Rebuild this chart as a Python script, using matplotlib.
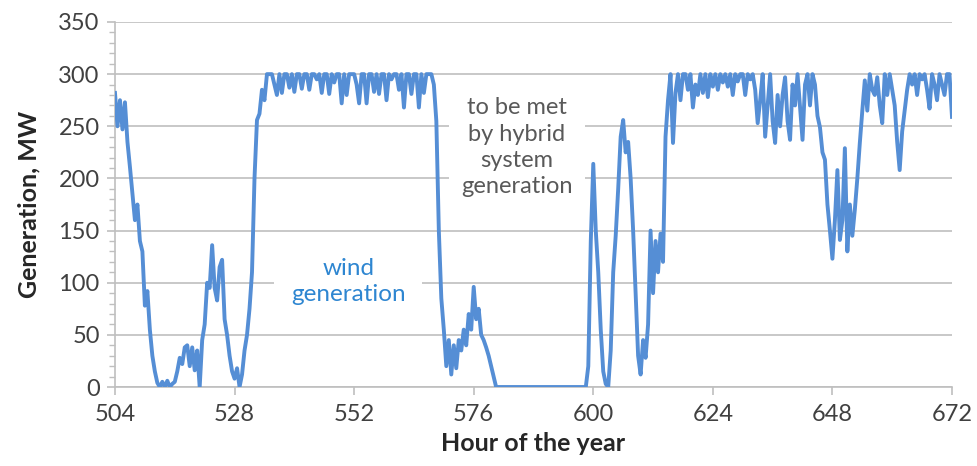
import numpy as np
import matplotlib
matplotlib.use("Agg")
import matplotlib.pyplot as plt
from matplotlib.ticker import MultipleLocator

plt.rcParams['font.family'] = ['Lato', 'DejaVu Sans']

# wind generation, MW, read every half hour from hour 504 to 672
start_hour = 504
step = 0.5
mw = [
    # 504 - 515.5
    282, 250, 275, 247, 273, 235, 211, 185, 160, 175, 140, 130,
    78, 92, 55, 30, 15, 4, 0, 5, 0, 6, 0, 3,
    # 516 - 527.5
    5, 15, 28, 22, 38, 40, 20, 38, 16, 35, 0, 45,
    60, 100, 95, 136, 95, 83, 115, 122, 65, 50, 30, 15,
    # 528 - 539.5
    8, 18, 0, 12, 35, 50, 75, 110, 200, 256, 262, 285,
    275, 300, 300, 300, 290, 280, 300, 282, 300, 300, 287, 300,
    # 540 - 551.5
    283, 300, 300, 286, 300, 300, 285, 300, 300, 295, 300, 282,
    300, 300, 281, 300, 292, 300, 300, 272, 300, 280, 300, 300,
    # 552 - 563.5
    300, 290, 272, 300, 300, 272, 300, 300, 283, 300, 281, 300,
    300, 275, 300, 295, 300, 300, 285, 300, 268, 300, 300, 281,
    # 564 - 575.5
    300, 300, 268, 300, 282, 300, 300, 300, 290, 255, 150, 85,
    55, 20, 45, 12, 40, 18, 45, 35, 55, 40, 70, 55,
    # 576 - 587.5
    96, 65, 75, 50, 45, 38, 30, 20, 10, 0, 0, 0,
    0, 0, 0, 0, 0, 0, 0, 0, 0, 0, 0, 0,
    # 588 - 599.5
    0, 0, 0, 0, 0, 0, 0, 0, 0, 0, 0, 0,
    0, 0, 0, 0, 0, 0, 0, 0, 0, 0, 20, 140,
    # 600 - 611.5
    214, 150, 110, 55, 15, 3, 0, 35, 110, 145, 190, 240,
    256, 225, 235, 200, 150, 90, 30, 12, 45, 28, 60, 150,
    # 612 - 623.5
    90, 140, 110, 147, 120, 240, 275, 300, 234, 282, 300, 275,
    300, 300, 285, 300, 268, 290, 280, 300, 282, 300, 278, 300,
    # 624 - 635.5
    288, 300, 285, 300, 292, 300, 288, 300, 280, 300, 293, 300,
    300, 280, 300, 295, 300, 285, 253, 275, 300, 240, 270, 300,
    # 636 - 647.5
    255, 234, 280, 250, 280, 297, 255, 237, 290, 270, 300, 268,
    237, 290, 300, 270, 300, 290, 260, 249, 225, 218, 175, 150,
    # 648 - 659.5
    123, 160, 208, 141, 160, 229, 130, 175, 145, 170, 200, 234,
    265, 294, 265, 300, 285, 280, 297, 270, 253, 300, 280, 300,
    # 660 - 672
    285, 270, 235, 208, 245, 265, 285, 300, 290, 300, 280, 300,
    295, 300, 285, 267, 300, 290, 275, 300, 290, 280, 300, 300,
    259,
]
hours = start_hour + step * np.arange(len(mw))

x_ticks = [504, 528, 552, 576, 600, 624, 648, 672]

grey = '#BFBFBF'
line_blue = '#558ED5'

fig = plt.figure(figsize=(9.77, 4.66), dpi=100)
ax = fig.add_axes([0.1177, 0.1695, 0.8567, 0.7833])

ax.plot(hours, mw, color=line_blue, lw=2.8, zorder=4, solid_joinstyle='round')

ax.set_xlim(504, 672)
ax.set_ylim(0, 350)
ax.set_xticks(x_ticks)
ax.yaxis.set_major_locator(MultipleLocator(50))
ax.yaxis.set_minor_locator(MultipleLocator(10))

ax.grid(axis='y', color=grey, lw=1.2, zorder=1)
ax.set_axisbelow(True)
for s in ['top', 'right']:
    ax.spines[s].set_visible(False)
for s in ['left', 'bottom']:
    ax.spines[s].set_color(grey)
    ax.spines[s].set_linewidth(1.2)

ax.tick_params(axis='both', which='major', labelsize=17, colors='#404040',
               direction='out', length=6, width=1.2, color=grey, pad=6)
ax.tick_params(axis='y', which='minor', direction='out', length=4, width=1.0, color=grey)
ax.tick_params(axis='y', which='major', pad=5)

ax.set_xlabel('Hour of the year', fontsize=18, fontweight='bold', color='#262626', labelpad=5)
ax.set_ylabel('Generation, MW', fontsize=18, fontweight='bold', color='#262626', labelpad=13)

ax.text(550.8, 101, 'wind\ngeneration', ha='center', va='center', fontsize=17.5,
        color='#2E86D1', linespacing=1.3, zorder=3,
        bbox=dict(facecolor='white', edgecolor='none', pad=12))
ax.text(584.7, 230, 'to be met\nby hybrid\nsystem\ngeneration', ha='center', va='center',
        fontsize=17, color='#595959', linespacing=1.3, zorder=3,
        bbox=dict(facecolor='white', edgecolor='none', pad=9))

fig.savefig('out.png', dpi=100)
